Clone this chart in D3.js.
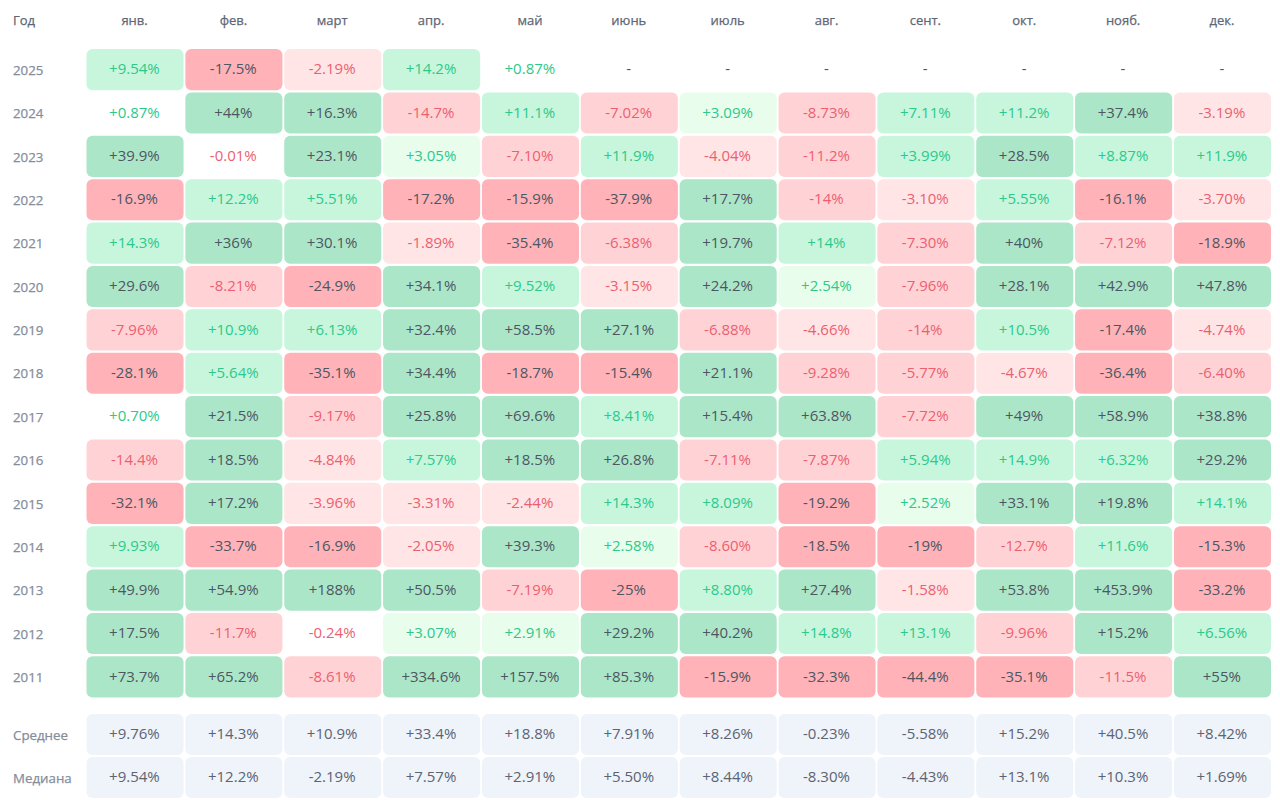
<!DOCTYPE html>
<meta charset="utf-8">
<style>
body {
  margin: 0;
  background: #fff;
  font-family: "Open Sans";
}
svg { display: block; }
.head { font-size: 13px; font-weight: 400; fill: #5f6775; stroke: #5f6775; stroke-width: .25px; }
.side { font-size: 13.3px; font-weight: 400; fill: #858d9b; stroke: #858d9b; stroke-width: .25px; }
.val { font-size: 15px; }
</style>
<body>
<script src="https://cdnjs.cloudflare.com/ajax/libs/d3/7.8.5/d3.min.js"></script>
<script>

var width = 1280,
    height = 806;

var months = ["янв.", "фев.", "март", "апр.", "май", "июнь", "июль", "авг.", "сент.", "окт.", "нояб.", "дек."];
var years = ["2025", "2024", "2023", "2022", "2021", "2020", "2019", "2018", "2017", "2016", "2015", "2014", "2013", "2012", "2011"];

var y2025 = ["+9.54%", "-17.5%", "-2.19%", "+14.2%", "+0.87%", "-", "-", "-", "-", "-", "-", "-"];
var y2024 = ["+0.87%", "+44%", "+16.3%", "-14.7%", "+11.1%", "-7.02%", "+3.09%", "-8.73%", "+7.11%", "+11.2%", "+37.4%", "-3.19%"];
var y2023 = ["+39.9%", "-0.01%", "+23.1%", "+3.05%", "-7.10%", "+11.9%", "-4.04%", "-11.2%", "+3.99%", "+28.5%", "+8.87%", "+11.9%"];
var y2022 = ["-16.9%", "+12.2%", "+5.51%", "-17.2%", "-15.9%", "-37.9%", "+17.7%", "-14%", "-3.10%", "+5.55%", "-16.1%", "-3.70%"];
var y2021 = ["+14.3%", "+36%", "+30.1%", "-1.89%", "-35.4%", "-6.38%", "+19.7%", "+14%", "-7.30%", "+40%", "-7.12%", "-18.9%"];
var y2020 = ["+29.6%", "-8.21%", "-24.9%", "+34.1%", "+9.52%", "-3.15%", "+24.2%", "+2.54%", "-7.96%", "+28.1%", "+42.9%", "+47.8%"];
var y2019 = ["-7.96%", "+10.9%", "+6.13%", "+32.4%", "+58.5%", "+27.1%", "-6.88%", "-4.66%", "-14%", "+10.5%", "-17.4%", "-4.74%"];
var y2018 = ["-28.1%", "+5.64%", "-35.1%", "+34.4%", "-18.7%", "-15.4%", "+21.1%", "-9.28%", "-5.77%", "-4.67%", "-36.4%", "-6.40%"];
var y2017 = ["+0.70%", "+21.5%", "-9.17%", "+25.8%", "+69.6%", "+8.41%", "+15.4%", "+63.8%", "-7.72%", "+49%", "+58.9%", "+38.8%"];
var y2016 = ["-14.4%", "+18.5%", "-4.84%", "+7.57%", "+18.5%", "+26.8%", "-7.11%", "-7.87%", "+5.94%", "+14.9%", "+6.32%", "+29.2%"];
var y2015 = ["-32.1%", "+17.2%", "-3.96%", "-3.31%", "-2.44%", "+14.3%", "+8.09%", "-19.2%", "+2.52%", "+33.1%", "+19.8%", "+14.1%"];
var y2014 = ["+9.93%", "-33.7%", "-16.9%", "-2.05%", "+39.3%", "+2.58%", "-8.60%", "-18.5%", "-19%", "-12.7%", "+11.6%", "-15.3%"];
var y2013 = ["+49.9%", "+54.9%", "+188%", "+50.5%", "-7.19%", "-25%", "+8.80%", "+27.4%", "-1.58%", "+53.8%", "+453.9%", "-33.2%"];
var y2012 = ["+17.5%", "-11.7%", "-0.24%", "+3.07%", "+2.91%", "+29.2%", "+40.2%", "+14.8%", "+13.1%", "-9.96%", "+15.2%", "+6.56%"];
var y2011 = ["+73.7%", "+65.2%", "-8.61%", "+334.6%", "+157.5%", "+85.3%", "-15.9%", "-32.3%", "-44.4%", "-35.1%", "-11.5%", "+55%"];

var rows = [y2025, y2024, y2023, y2022, y2021, y2020, y2019, y2018, y2017, y2016, y2015, y2014, y2013, y2012, y2011];

var statNames = ["Среднее", "Медиана"];
var average = ["+9.76%", "+14.3%", "+10.9%", "+33.4%", "+18.8%", "+7.91%", "+8.26%", "-0.23%", "-5.58%", "+15.2%", "+40.5%", "+8.42%"];
var median = ["+9.54%", "+12.2%", "-2.19%", "+7.57%", "+2.91%", "+5.50%", "+8.44%", "-8.30%", "-4.43%", "+13.1%", "+10.3%", "+1.69%"];
var stats = [average, median];

var x = d3.scaleBand().domain(d3.range(12)).range([86.5, 1271]).paddingInner(0.018).paddingOuter(0);
var y = d3.scaleBand().domain(years).range([49, 697.5]).paddingInner(0.05);
var yStat = d3.scaleBand().domain(statNames).range([714, 798]).paddingInner(0.05);

var fill = d3.scaleThreshold()
    .domain([-15, -5, -1, 1, 3.2, 15])
    .range(["#ffb3b8", "#ffd3d6", "#ffe5e5", "#ffffff", "#e9fdec", "#c7f6dd", "#ace6c8"]);

var text = d3.scaleThreshold()
    .domain([-15, 0, 15])
    .range(["#4d5663", "#ec5f70", "#2cc98b", "#4d5663"]);

var svg = d3.select("body").append("svg")
    .attr("width", width)
    .attr("height", height);

svg.append("text").attr("class", "head").attr("x", 13).attr("y", 20)
    .attr("dy", ".35em").text("Год");

svg.selectAll(".month").data(months).enter().append("text")
    .attr("class", "head")
    .attr("x", function(d, i) { return x(i) + x.bandwidth() / 2 - 0.5; })
    .attr("y", 20)
    .attr("dy", ".35em")
    .attr("text-anchor", "middle")
    .text(function(d) { return d; });

function sideLabels(names, scale) {
  svg.selectAll(null).data(names).enter().append("text")
      .attr("class", "side")
      .attr("x", 13)
      .attr("y", function(d) { return scale(d) + scale.bandwidth() / 2 + 0.5; })
      .attr("dy", ".35em")
      .text(function(d) { return d; });
}

sideLabels(years, y);
sideLabels(statNames, yStat);

function drawRow(g, values, band, isStat) {
  var cell = g.selectAll("g").data(values).enter().append("g")
      .attr("transform", function(d, i) { return "translate(" + x(i) + "," + band.y + ")"; });

  cell.filter(function(d) { return d !== "-"; }).append("rect")
      .attr("width", x.bandwidth())
      .attr("height", band.h)
      .attr("rx", 6)
      .attr("fill", function(d) { return isStat ? "#eff3fa" : fill(parseFloat(d)); });

  cell.append("text")
      .attr("class", "val")
      .attr("x", x.bandwidth() / 2 - 0.6)
      .attr("y", band.h / 2 - 0.6)
      .attr("dy", ".35em")
      .attr("text-anchor", "middle")
      .attr("fill", function(d) {
        if(d === "-") return "#4d5663";
        return isStat ? "#5b6472" : text(parseFloat(d));
      })
      .text(function(d) { return d; });
}

rows.forEach(function(r, i) {
  drawRow(svg.append("g"), r, {y: y(years[i]), h: y.bandwidth()}, false);
});

stats.forEach(function(r, i) {
  drawRow(svg.append("g"), r, {y: yStat(statNames[i]), h: yStat.bandwidth()}, true);
});

</script>
